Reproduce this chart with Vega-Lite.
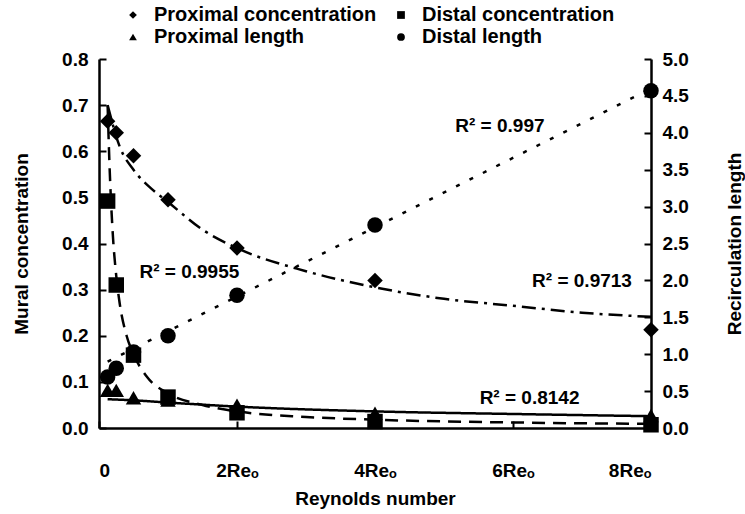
{
  "$schema": "https://vega.github.io/schema/vega-lite/v6.json",
  "width": 552,
  "height": 369,
  "autosize": {"type": "none"},
  "padding": {"left": 99, "top": 59, "right": 94, "bottom": 86},
  "background": "white",
  "config": {
    "font": "Liberation Sans",
    "view": {"stroke": null},
    "axis": {
      "grid": false,
      "domainColor": "black",
      "domainWidth": 2.5,
      "tickColor": "black",
      "tickWidth": 2,
      "tickSize": -7,
      "labelColor": "black",
      "labelFont": "Liberation Sans",
      "labelFontSize": 19,
      "labelFontWeight": "bold",
      "titleColor": "black",
      "titleFont": "Liberation Sans",
      "titleFontSize": 19,
      "titleFontWeight": "bold"
    },
    "legend": {
      "labelFont": "Liberation Sans",
      "labelFontSize": 20,
      "labelFontWeight": "bold",
      "labelColor": "black",
      "labelLimit": 400
    }
  },
  "datasets": {
    "pts": [
      {"series": "Proximal concentration", "x": 0.125, "y": 0.665},
      {"series": "Proximal concentration", "x": 0.25, "y": 0.64},
      {"series": "Proximal concentration", "x": 0.5, "y": 0.59},
      {"series": "Proximal concentration", "x": 1, "y": 0.495},
      {"series": "Proximal concentration", "x": 2, "y": 0.39},
      {"series": "Proximal concentration", "x": 4, "y": 0.32},
      {"series": "Proximal concentration", "x": 8, "y": 0.213},
      {"series": "Distal concentration", "x": 0.125, "y": 0.492},
      {"series": "Distal concentration", "x": 0.25, "y": 0.31},
      {"series": "Distal concentration", "x": 0.5, "y": 0.158},
      {"series": "Distal concentration", "x": 1, "y": 0.067},
      {"series": "Distal concentration", "x": 2, "y": 0.033},
      {"series": "Distal concentration", "x": 4, "y": 0.014},
      {"series": "Distal concentration", "x": 8, "y": 0.007},
      {"series": "Proximal length", "x": 0.125, "y": 0.51},
      {"series": "Proximal length", "x": 0.25, "y": 0.51},
      {"series": "Proximal length", "x": 0.5, "y": 0.41},
      {"series": "Proximal length", "x": 1, "y": 0.38},
      {"series": "Proximal length", "x": 2, "y": 0.31},
      {"series": "Proximal length", "x": 4, "y": 0.2},
      {"series": "Proximal length", "x": 8, "y": 0.17},
      {"series": "Distal length", "x": 0.125, "y": 0.69},
      {"series": "Distal length", "x": 0.25, "y": 0.81},
      {"series": "Distal length", "x": 0.5, "y": 1.03},
      {"series": "Distal length", "x": 1, "y": 1.25},
      {"series": "Distal length", "x": 2, "y": 1.8},
      {"series": "Distal length", "x": 4, "y": 2.75},
      {"series": "Distal length", "x": 8, "y": 4.57}
    ],
    "fits": [
      {"series": "Proximal concentration", "x": 0.125, "y": 0.7},
      {"series": "Proximal concentration", "x": 0.3, "y": 0.61},
      {"series": "Proximal concentration", "x": 0.5, "y": 0.56},
      {"series": "Proximal concentration", "x": 0.75, "y": 0.52},
      {"series": "Proximal concentration", "x": 1, "y": 0.49},
      {"series": "Proximal concentration", "x": 1.5, "y": 0.43},
      {"series": "Proximal concentration", "x": 2, "y": 0.39},
      {"series": "Proximal concentration", "x": 3, "y": 0.34},
      {"series": "Proximal concentration", "x": 4, "y": 0.305},
      {"series": "Proximal concentration", "x": 5, "y": 0.28},
      {"series": "Proximal concentration", "x": 6, "y": 0.265},
      {"series": "Proximal concentration", "x": 7, "y": 0.25},
      {"series": "Proximal concentration", "x": 8, "y": 0.241},
      {"series": "Distal concentration", "x": 0.125, "y": 0.7},
      {"series": "Distal concentration", "x": 0.15, "y": 0.58},
      {"series": "Distal concentration", "x": 0.2, "y": 0.42},
      {"series": "Distal concentration", "x": 0.25, "y": 0.33},
      {"series": "Distal concentration", "x": 0.3, "y": 0.27},
      {"series": "Distal concentration", "x": 0.4, "y": 0.2},
      {"series": "Distal concentration", "x": 0.5, "y": 0.16},
      {"series": "Distal concentration", "x": 0.7, "y": 0.11},
      {"series": "Distal concentration", "x": 1, "y": 0.075},
      {"series": "Distal concentration", "x": 1.5, "y": 0.05},
      {"series": "Distal concentration", "x": 2, "y": 0.036},
      {"series": "Distal concentration", "x": 3, "y": 0.024},
      {"series": "Distal concentration", "x": 4, "y": 0.018},
      {"series": "Distal concentration", "x": 6, "y": 0.012},
      {"series": "Distal concentration", "x": 8, "y": 0.009},
      {"series": "Proximal length", "x": 0.125, "y": 0.39},
      {"series": "Proximal length", "x": 0.5, "y": 0.375},
      {"series": "Proximal length", "x": 1, "y": 0.345},
      {"series": "Proximal length", "x": 2, "y": 0.29},
      {"series": "Proximal length", "x": 4, "y": 0.225},
      {"series": "Proximal length", "x": 6, "y": 0.19},
      {"series": "Proximal length", "x": 8, "y": 0.16},
      {"series": "Distal length", "x": 0.125, "y": 0.9},
      {"series": "Distal length", "x": 8, "y": 4.6}
    ],
    "notes": [
      {"label": "R² = 0.9955", "x": 1.31, "y": 0.339},
      {"label": "R² = 0.997", "x": 5.81, "y": 0.655},
      {"label": "R² = 0.9713", "x": 7.0, "y": 0.319},
      {"label": "R² = 0.8142", "x": 6.24, "y": 0.065}
    ]
  },
  "encoding": {
    "x": {
      "field": "x",
      "type": "quantitative",
      "scale": {"domain": [0, 8], "nice": false, "zero": false},
      "axis": {
        "values": [0, 2, 4, 6, 8],
        "labelExpr": "datum.value === 0 ? '0' : datum.value + 'Reₒ'",
        "labelPadding": 40,
        "title": "Reynolds number",
        "titlePadding": 9
      }
    }
  },
  "layer": [
    {
      "encoding": {
        "y": {
          "field": "y",
          "type": "quantitative",
          "scale": {"domain": [0, 0.8], "nice": false},
          "axis": {
            "orient": "left",
            "values": [0, 0.1, 0.2, 0.3, 0.4, 0.5, 0.6, 0.7, 0.8],
            "format": ".1f",
            "labelPadding": 18,
            "title": "Mural concentration",
            "titlePadding": 30
          }
        }
      },
      "layer": [
        {
          "data": {"name": "pts"},
          "transform": [{"filter": "indexof(datum.series, 'concentration') >= 0"}],
          "mark": {"type": "point", "filled": true, "opacity": 1, "color": "black"},
          "encoding": {
            "shape": {
              "field": "series",
              "type": "nominal",
              "scale": {
                "domain": ["Proximal concentration", "Proximal length", "Distal concentration", "Distal length"],
                "range": ["diamond", "triangle-up", "square", "circle"]
              },
              "legend": {
                "orient": "none",
                "legendX": 24,
                "legendY": -54,
                "columns": 2,
                "columnPadding": 14,
                "rowPadding": 2,
                "title": null,
                "symbolSize": 60,
                "symbolFillColor": "black",
                "symbolStrokeColor": "black",
                "labelOffset": 11
              }
            },
            "size": {"value": 240}
          }
        },
        {
          "data": {"name": "fits"},
          "transform": [{"filter": "indexof(datum.series, 'concentration') >= 0"}],
          "mark": {"type": "line", "color": "black", "strokeWidth": 2.5, "interpolate": "monotone"},
          "encoding": {
            "strokeDash": {
              "field": "series",
              "type": "nominal",
              "scale": {
                "domain": ["Proximal concentration", "Distal concentration", "Proximal length", "Distal length"],
                "range": [[14, 6, 3, 6], [13, 8], [1, 0], [4, 11]]
              },
              "legend": null
            }
          }
        },
        {
          "data": {"name": "notes"},
          "mark": {"type": "text", "font": "Liberation Sans", "fontSize": 19, "fontWeight": "bold", "color": "black"},
          "encoding": {"text": {"field": "label"}}
        }
      ]
    },
    {
      "encoding": {
        "y": {
          "field": "y",
          "type": "quantitative",
          "scale": {"domain": [0, 5], "nice": false},
          "axis": {
            "orient": "right",
            "values": [0, 0.5, 1, 1.5, 2, 2.5, 3, 3.5, 4, 4.5, 5],
            "format": ".1f",
            "labelPadding": 18,
            "title": "Recirculation length",
            "titleAngle": 270,
            "titleBaseline": "top",
            "titlePadding": 37
          }
        }
      },
      "layer": [
        {
          "data": {"name": "pts"},
          "transform": [{"filter": "indexof(datum.series, 'length') >= 0"}],
          "mark": {"type": "point", "filled": true, "opacity": 1, "color": "black"},
          "encoding": {
            "shape": {"field": "series", "type": "nominal"},
            "size": {"value": 240}
          }
        },
        {
          "data": {"name": "fits"},
          "transform": [{"filter": "indexof(datum.series, 'length') >= 0"}],
          "mark": {"type": "line", "color": "black", "strokeWidth": 2.5, "interpolate": "monotone"},
          "encoding": {
            "strokeDash": {"field": "series", "type": "nominal", "legend": null}
          }
        }
      ]
    }
  ],
  "resolve": {"scale": {"y": "independent"}}
}
